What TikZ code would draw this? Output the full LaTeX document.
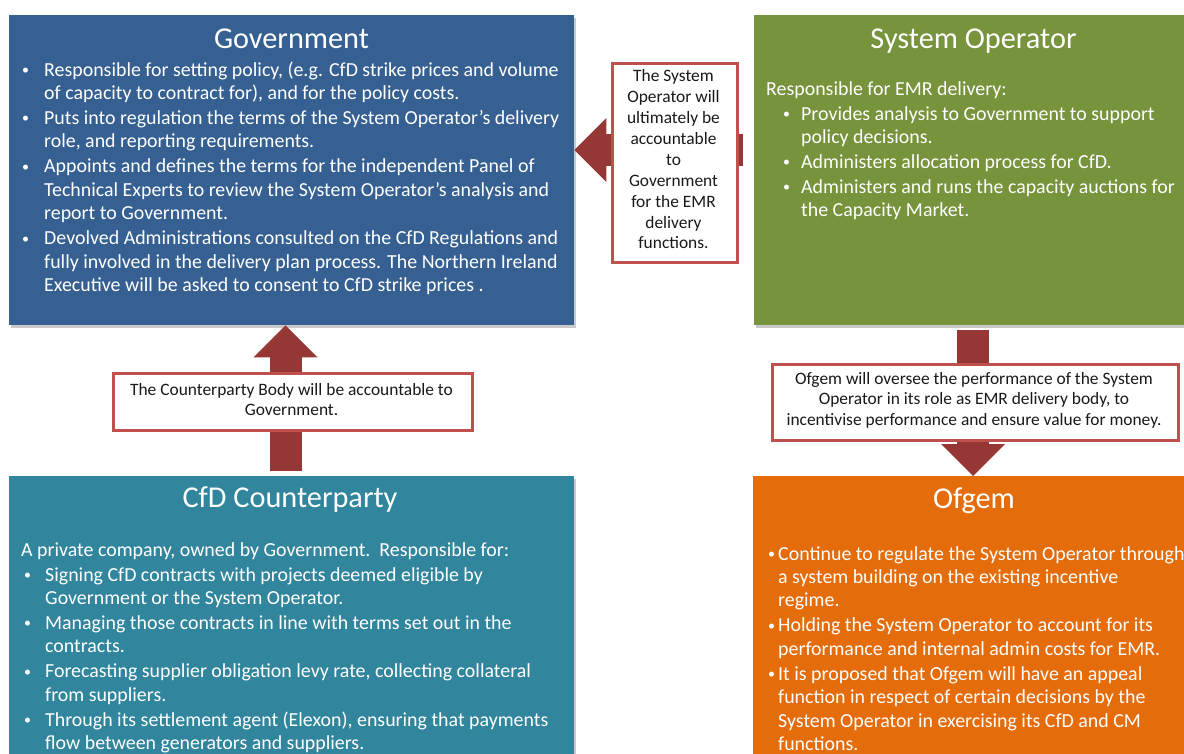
\documentclass[tikz,border=0pt]{standalone}
\usepackage{fontspec}
\setmainfont{Carlito}
\usetikzlibrary{arrows.meta,shadows}
\definecolor{govblue}{HTML}{366092}
\definecolor{sogreen}{HTML}{77933C}
\definecolor{cfdteal}{HTML}{31859C}
\definecolor{ofgorange}{HTML}{E46C0A}
\definecolor{arrowred}{HTML}{953735}
\definecolor{calloutred}{HTML}{C0504D}
\newcommand\smallbul{\raisebox{1.6pt}{\fontsize{14pt}{14pt}\selectfont\textbullet}}
\newcommand\bitem[3]{\par\hangindent=#2pt\hangafter=1\noindent\hspace*{#1pt}\makebox[\dimexpr#2pt-#1pt\relax][l]{\smallbul}#3}
\newcommand\bodyfont{\fontsize{19.9pt}{23.4pt}\selectfont\parskip=1.6pt\relax}
\newcommand\callfont{\fontsize{17.4pt}{20.9pt}\selectfont}
\tikzset{
  panel/.style={rectangle, inner sep=0pt, anchor=north west, draw=none,
    drop shadow={shadow xshift=1.5pt, shadow yshift=-2.5pt, opacity=0.35, fill=black!60}},
  title/.style={anchor=base, inner sep=0pt, text=white, font=\fontsize{30.3pt}{36pt}\selectfont},
  body/.style={anchor=base west, inner sep=0pt, text=white},
  callout/.style={rectangle, inner sep=0pt, anchor=north west, draw=calloutred, line width=2.5pt, fill=white,
    drop shadow={shadow xshift=1pt, shadow yshift=-1.5pt, opacity=0.3, fill=black!60}},
  calltext/.style={anchor=base, inner sep=0pt, text=black!90},
  blockarrow/.style={draw=arrowred, line width=32pt, line cap=butt,
    -{Triangle[width=64pt,length=32pt,line width=0pt]}}
}
\begin{document}
\begin{tikzpicture}[x=1pt,y=-1pt]
\clip (0,0) rectangle (1184,753);
\fill[white] (0,0) rectangle (1184,753);
% panels
\node[panel, fill=govblue, minimum width=565pt, minimum height=310pt] (gov) at (9,15) {};
\node[panel, fill=sogreen, minimum width=440pt, minimum height=310pt] (so) at (754,15) {};
\node[panel, fill=cfdteal, minimum width=565pt, minimum height=300pt] (cfd) at (9,476) {};
\node[panel, fill=ofgorange, minimum width=440pt, minimum height=300pt] (ofg) at (753,476) {};
% arrows
\coordinate (a1s) at (743,150);
\coordinate (a2s) at (285.5,471);
\coordinate (a3s) at (973,330);
\draw[blockarrow] (a1s) -- (a1s -| gov.east);
\draw[blockarrow] (a2s) -- (a2s |- gov.south);
\draw[blockarrow] (a3s) -- (a3s |- ofg.north);
% callouts
\node[callout, minimum width=125pt, minimum height=199pt] (c1) at (611,62) {};
\node[callout, minimum width=359pt, minimum height=57pt] (c2) at (112,372) {};
\node[callout, minimum width=406pt, minimum height=76pt] (c3) at (771,363) {};
\node[calltext] (c1t) at (673.5,81.7) {\begin{minipage}[t]{125pt}\centering\callfont
The System\\Operator will\\ultimately be\\accountable\\to\\Government\\for the EMR\\delivery\\functions.\end{minipage}};
\node[calltext] (c2t) at (291.5,395) {\begin{minipage}[t]{359pt}\centering\callfont
The Counterparty Body will be accountable to\\Government.\end{minipage}};
\node[calltext] (c3t) at (974,384) {\begin{minipage}[t]{406pt}\centering\callfont
Ofgem will oversee the performance of the System\\Operator in its role as EMR delivery body, to\\incentivise performance and ensure value for money.\end{minipage}};
% titles
\node[title] (govt) at (291.5,48) {Government};
\node[title] (sot) at (973.5,48) {System Operator};
\node[title] (cfdt) at (290,507) {CfD Counterparty};
\node[title] (ofgt) at (974,508) {Ofgem};
% bodies
\node[body] (govb) at (22,76) {\begin{minipage}[t]{560pt}\bodyfont
\bitem{0}{22}{Responsible for setting policy, (e.g. CfD strike prices and volume\newline of capacity to contract for), and for the policy costs.}
\bitem{0}{22}{Puts into regulation the terms of the System Operator’s delivery\newline role, and reporting requirements.}
\bitem{0}{22}{Appoints and defines the terms for the independent Panel of\newline Technical Experts to review the System Operator’s analysis and\newline report to Government.}
\bitem{0}{22}{Devolved Administrations consulted on the CfD Regulations and\newline fully involved in the delivery plan process. The Northern Ireland\newline Executive will be asked to consent to CfD strike prices .}
\end{minipage}};
\node[body] (sob) at (766,95) {\begin{minipage}[t]{420pt}\bodyfont
\noindent Responsible for EMR delivery:
\bitem{17}{35}{Provides analysis to Government to support\newline policy decisions.}
\bitem{17}{35}{Administers allocation process for CfD.}
\bitem{17}{35}{Administers and runs the capacity auctions for\newline the Capacity Market.}
\end{minipage}};
\node[body] (cfdb) at (21,556) {\begin{minipage}[t]{560pt}\bodyfont
\noindent A private company, owned by Government.\ \ Responsible for:
\bitem{3}{24}{Signing CfD contracts with projects deemed eligible by\newline Government or the System Operator.}
\bitem{3}{24}{Managing those contracts in line with terms set out in the\newline contracts.}
\bitem{3}{24}{Forecasting supplier obligation levy rate, collecting collateral\newline from suppliers.}
\bitem{3}{24}{Through its settlement agent (Elexon), ensuring that payments\newline flow between generators and suppliers.}
\end{minipage}};
\node[body] (ofgb) at (768,560) {\begin{minipage}[t]{430pt}\bodyfont
\bitem{0}{10}{Continue to regulate the System Operator through\newline a system building on the existing incentive\newline regime.}
\bitem{0}{10}{Holding the System Operator to account for its\newline performance and internal admin costs for EMR.}
\bitem{0}{10}{It is proposed that Ofgem will have an appeal\newline function in respect of certain decisions by the\newline System Operator in exercising its CfD and CM\newline functions.}
\end{minipage}};
\end{tikzpicture}
\end{document}
